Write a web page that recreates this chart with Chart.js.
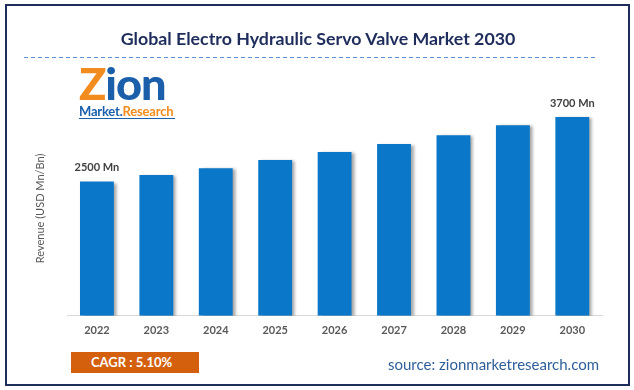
<!DOCTYPE html>
<html>
<head>
<meta charset="utf-8">
<script src="https://cdn.jsdelivr.net/npm/chart.js@4.4.1/dist/chart.umd.min.js"></script>
<style>
  html, body { margin: 0; padding: 0; background: #fff; }
  #page { position: relative; width: 634px; height: 390px; overflow: hidden; font-family: Lato, "Open Sans", sans-serif; }
  #frame { position: absolute; left: 5px; top: 4px; width: 621px; height: 378px; border: 2px solid #1f2d5c; }
  #chartBox { position: absolute; left: 0; top: 0; width: 634px; height: 390px; }
  #title { position: absolute; left: 0; width: 636px; top: 27px; text-align: center; font-weight: bold; font-size: 17.8px; color: #1f2d5c; }
  #rule { position: absolute; left: 24px; width: 573px; top: 57px; height: 1px;
          background: repeating-linear-gradient(to right, #5b8fd6 0 4px, transparent 4px 7px); }
  #logo { position: absolute; left: 79px; top: 64px; width: 100px; }
  #logo .big { font-weight: 900; font-size: 43px; line-height: 40px; color: #1b5fab; letter-spacing: -1px; transform: scaleX(1.05); transform-origin: left; }
  #logo .big .z { color: #f28c1e; }
  #logo .small { font-weight: bold; font-size: 13px; line-height: 14px; border-bottom: 1px solid #1b5fab; width: 96px; letter-spacing: -0.2px; white-space: nowrap; }
  #logo .small .m { color: #1b5fab; }
  #logo .small .r { color: #f28c1e; }
  #cagr { position: absolute; left: 71px; top: 352px; width: 128px; height: 21px; background: #d4600e; color: #fff; font-weight: bold; font-size: 13px; line-height: 21px; box-sizing: border-box; padding-left: 20px; }
  #source { position: absolute; left: 388px; top: 355px; font-size: 15px; color: #2f5f9a; }
</style>
</head>
<body>
<div id="page">
  <div id="chartBox"><canvas id="chart"></canvas></div>
  <div id="frame"></div>
  <div id="title">Global Electro Hydraulic Servo Valve Market 2030</div>
  <div id="rule"></div>
  <div id="logo">
    <div class="big"><span class="z">Z</span>ion</div>
    <div class="small"><span class="m">Market.</span><span class="r">Research</span></div>
  </div>
  <div id="cagr">CAGR : 5.10%</div>
  <div id="source">source: zionmarketresearch.com</div>
</div>
<script>
const years = ['2022', '2023', '2024', '2025', '2026', '2027', '2028', '2029', '2030'];
const revenue = [2500, 2620, 2750, 2900, 3050, 3200, 3360, 3550, 3700];
const barLabels = ['2500 Mn', '', '', '', '', '', '', '', '3700 Mn'];

// shadow behind the bars + value labels above first and last bar
const barExtras = {
    id: 'barExtras',
    beforeDatasetsDraw(chart) {
        const ctx = chart.ctx;
        ctx.save();
        ctx.shadowColor = 'rgba(0,0,0,0.35)';
        ctx.shadowOffsetX = 3;
        ctx.shadowOffsetY = 1;
        ctx.shadowBlur = 3;
    },
    afterDatasetsDraw(chart) {
        const ctx = chart.ctx;
        ctx.restore();
        const meta = chart.getDatasetMeta(0);
        ctx.save();
        ctx.font = 'bold 11px Lato, "Open Sans", sans-serif';
        ctx.fillStyle = '#404040';
        ctx.textAlign = 'center';
        ctx.textBaseline = 'middle';
        meta.data.forEach((bar, i) => {
            if (barLabels[i]) ctx.fillText(barLabels[i], bar.x, bar.y - 14);
        });
        ctx.restore();
    }
};

new Chart(document.getElementById('chart'), {
    type: 'bar',
    data: {
        labels: years,
        datasets: [{
            data: revenue,
            backgroundColor: '#0a77c9',
            borderWidth: 0,
            barPercentage: 0.57,
            categoryPercentage: 1
        }]
    },
    options: {
        responsive: true,
        maintainAspectRatio: false,
        animation: false,
        layout: { padding: { left: 30, right: 32, top: 101, bottom: 45 } },
        plugins: { legend: { display: false }, tooltip: { enabled: false } },
        scales: {
            x: {
                grid: { display: false, drawTicks: false },
                border: { display: true, color: '#d9d9d9', width: 1 },
                ticks: { color: '#595959', font: { family: 'Lato', size: 11, weight: 'bold' }, padding: 8 }
            },
            y: {
                min: 0,
                max: 4000,
                grid: { display: false, drawTicks: false },
                border: { display: false },
                ticks: { display: false },
                title: {
                    display: true,
                    text: 'Revenue (USD Mn/Bn)',
                    color: '#595959',
                    font: { family: 'Lato', size: 11 },
                    padding: { top: 4, bottom: 20 }
                }
            }
        }
    },
    plugins: [barExtras]
});
</script>
</body>
</html>
